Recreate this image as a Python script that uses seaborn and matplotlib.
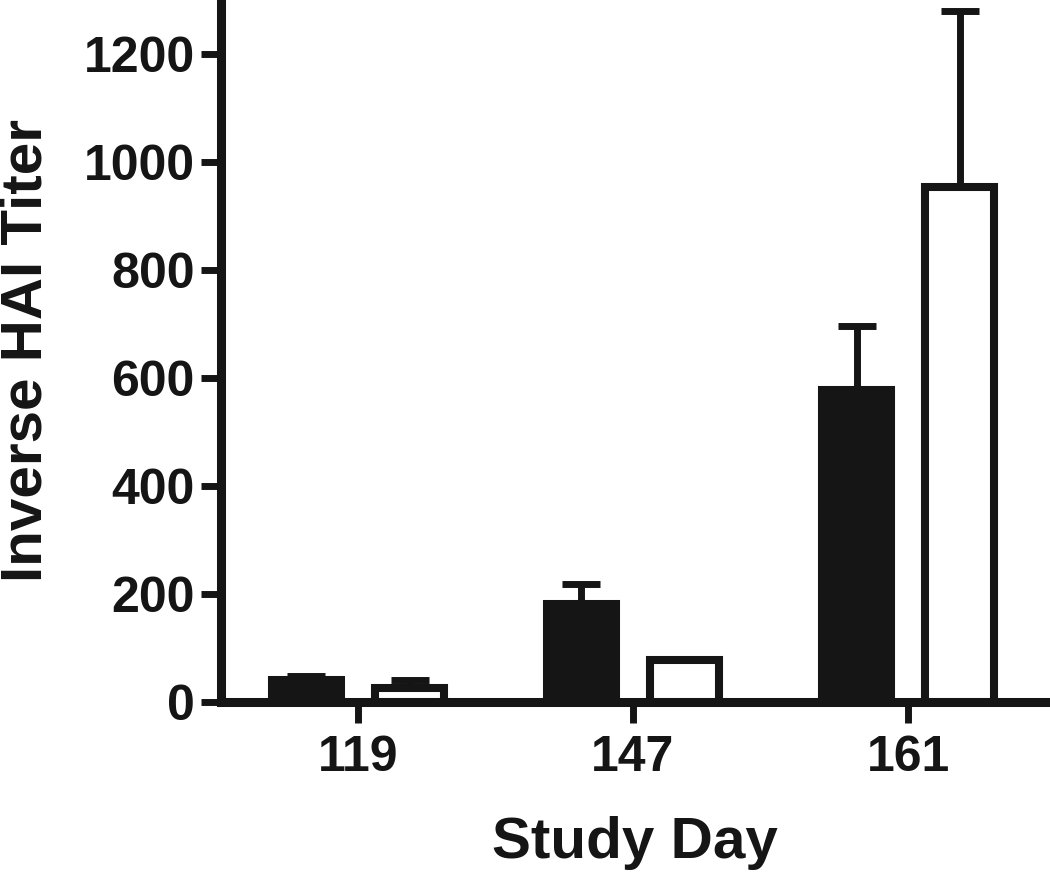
import matplotlib
matplotlib.use("Agg")
import matplotlib.pyplot as plt
import seaborn as sns
import pandas as pd

days = ["119", "147", "161"]
groups = ["Group 1", "Group 2"]
group1_mean = [40, 181, 578]
group2_mean = [25, 77, 954]
group1_err = [8, 38, 119]
group2_err = [15, 0, 326]
y_ticks = [0, 200, 400, 600, 800, 1000, 1200]

df = pd.DataFrame({
    "day": days * 2,
    "group": [groups[0]] * 3 + [groups[1]] * 3,
    "titer": group1_mean + group2_mean,
})

sns.set_theme(style="ticks")
plt.rcParams["font.family"] = ["Liberation Sans", "DejaVu Sans"]
plt.rcParams["font.weight"] = "bold"

ink = "#151515"
fig = plt.figure(figsize=(10.5, 8.73), dpi=100)
ax = fig.add_axes([0.21, 0.196, 0.79, 0.804])

sns.barplot(data=df, x="day", y="titer", hue="group", order=days, hue_order=groups,
            palette=[ink, "white"], width=0.75, gap=0.33, errorbar=None,
            edgecolor=ink, linewidth=5.8, legend=False, ax=ax, zorder=3)

errs = {groups[0]: group1_err, groups[1]: group2_err}
for cont, g in zip(ax.containers, groups):
    xs = [p.get_x() + p.get_width() / 2 for p in cont]
    ys = [p.get_height() for p in cont]
    e = errs[g]
    ax.errorbar(xs, ys, yerr=[[0] * len(e), e], fmt="none", ecolor=ink,
                elinewidth=5, capsize=14, capthick=5, zorder=2)

ax.set_xlim(-0.5, 2.516)
ax.set_ylim(0, 1300)
ax.set_yticks(y_ticks)
ax.set_yticklabels([str(v) for v in y_ticks])
sns.despine(ax=ax)
for s in ["left", "bottom"]:
    ax.spines[s].set_linewidth(6.5)
    ax.spines[s].set_color(ink)
ax.tick_params(axis="y", length=14.5, width=5, color=ink, labelsize=36, pad=4, labelcolor=ink)
ax.tick_params(axis="x", length=15, width=5, color=ink, labelsize=36, pad=9, labelcolor=ink)
for lab in ax.get_xticklabels() + ax.get_yticklabels():
    lab.set_fontweight("bold")
ax.set_xlabel("Study Day", fontsize=42, fontweight="bold", color=ink, labelpad=25)
ax.set_ylabel("Inverse HAI Titer", fontsize=42, fontweight="bold", color=ink, labelpad=22)

fig.savefig("out.png", dpi=100)
